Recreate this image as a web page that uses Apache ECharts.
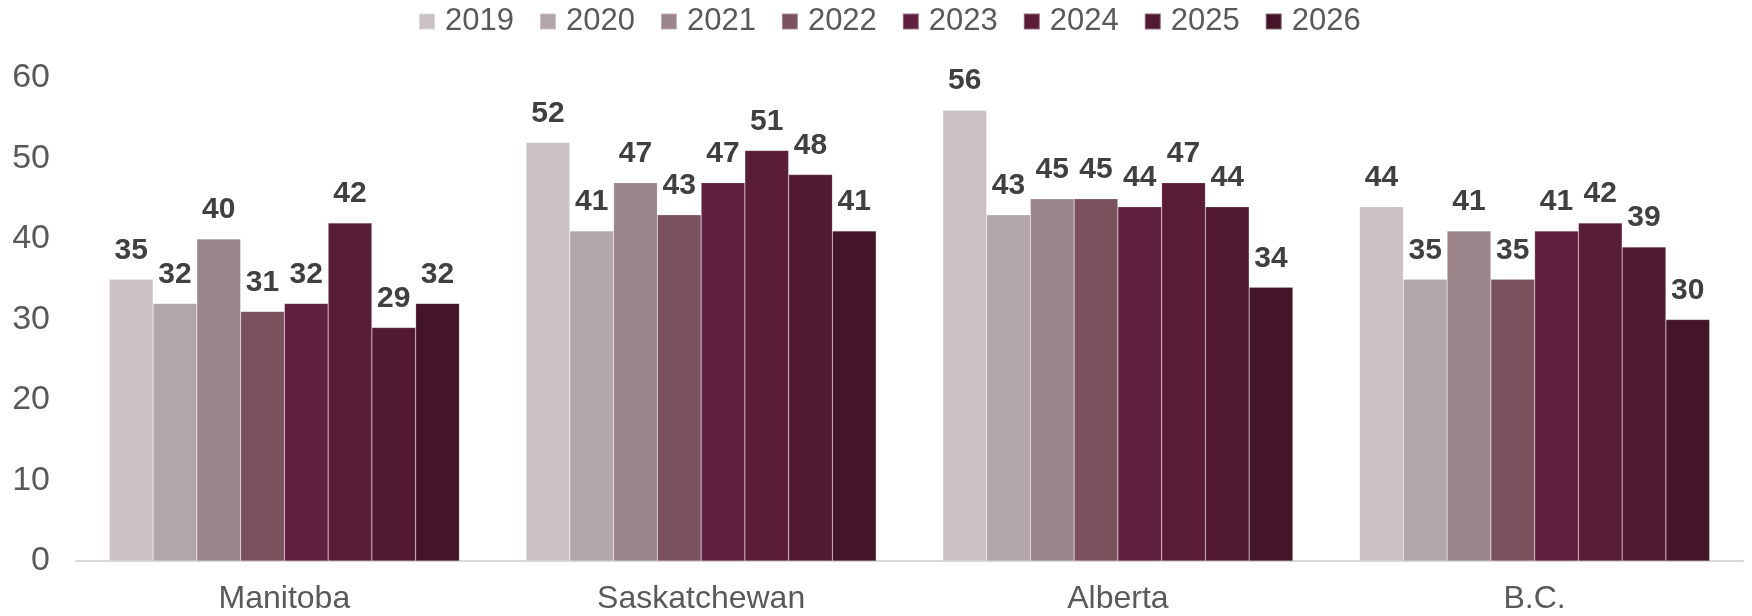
<!DOCTYPE html>
<html><head><meta charset="utf-8">
<script src="https://cdn.jsdelivr.net/npm/echarts@6/dist/echarts.min.js"></script>
<style>html,body{margin:0;padding:0;background:#fff}#c{width:1752px;height:616px}</style>
</head><body><div id="c"></div>
<script>
const categories = ['Manitoba', 'Saskatchewan', 'Alberta', 'B.C.'];
const years = ['2019', '2020', '2021', '2022', '2023', '2024', '2025', '2026'];
const v2019 = [35, 52, 56, 44];
const v2020 = [32, 41, 43, 35];
const v2021 = [40, 47, 45, 41];
const v2022 = [31, 43, 45, 35];
const v2023 = [32, 47, 44, 41];
const v2024 = [42, 51, 47, 42];
const v2025 = [29, 48, 44, 39];
const v2026 = [32, 41, 34, 30];
const yTicks = [0, 10, 20, 30, 40, 50, 60];
const colors = ['#CBC1C5', '#B3A6A9', '#9B858A', '#79525E', '#61203D', '#5A1D36', '#511A31', '#441529'];
const values = [v2019, v2020, v2021, v2022, v2023, v2024, v2025, v2026];

const chart = echarts.init(document.getElementById('c'), null, {renderer: 'canvas'});
chart.setOption({
  animation: false,
  color: colors,
  textStyle: {fontFamily: 'Liberation Sans, Arial, sans-serif'},
  legend: {
    top: 1, left: 413,
    itemWidth: 16, itemHeight: 16, itemGap: 25,
    icon: 'rect',
    textStyle: {fontSize: 31, color: '#595959', padding: [0, 0, 0, 5]},
    data: years
  },
  grid: {left: 76, right: 9, top: 78, bottom: 55, containLabel: false},
  xAxis: {
    type: 'category', data: categories,
    axisLine: {lineStyle: {color: '#D9D9D9', width: 2}},
    axisTick: {show: false},
    axisLabel: {fontSize: 32, color: '#595959', margin: 22}
  },
  yAxis: {
    type: 'value', min: yTicks[0], max: yTicks[yTicks.length - 1], interval: 10,
    splitLine: {show: false}, axisLine: {show: false}, axisTick: {show: false},
    axisLabel: {fontSize: 34, color: '#595959', margin: 26, align: 'right'}
  },
  series: years.map((y, i) => ({
    name: y, type: 'bar', data: values[i],
    barGap: '0%', barCategoryGap: '16%',
    itemStyle: {color: colors[i], borderColor: 'rgba(255,255,255,0.35)', borderWidth: 0.5},
    label: {show: true, position: 'top', distance: 14, fontSize: 30, fontWeight: 'bold', color: '#404040'}
  }))
});
</script></body></html>
